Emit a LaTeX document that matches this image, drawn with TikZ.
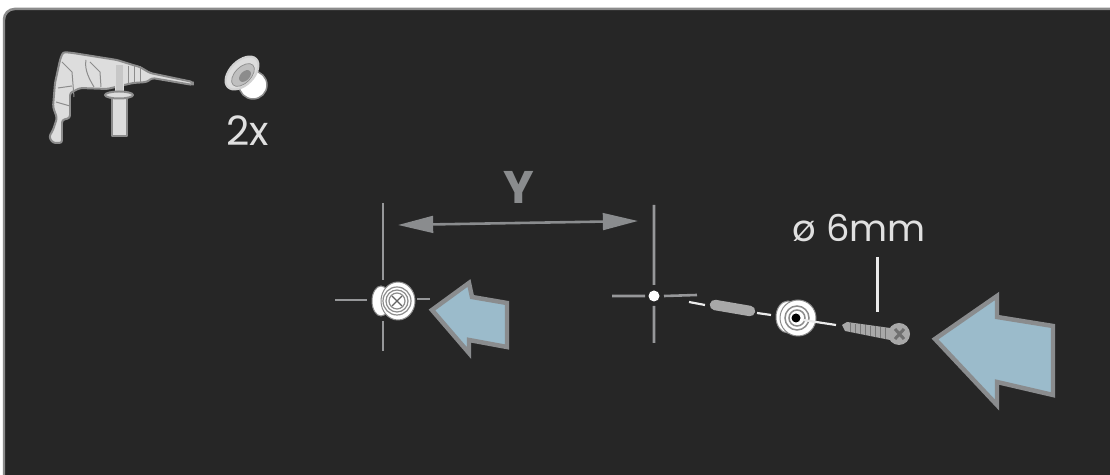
\documentclass[tikz,border=0pt]{standalone}
\usepackage{fontspec}
\setmainfont{Poppins}
\usetikzlibrary{arrows.meta}
\def\px{0.567pt}
\definecolor{panelgrey}{HTML}{262626}
\definecolor{rimgrey}{HTML}{8C8C8C}
\definecolor{linegrey}{HTML}{8A8C8E}
\definecolor{toolgrey}{HTML}{DDDDDD}
\definecolor{screwgrey}{HTML}{A8A8A8}
\definecolor{pushblue}{HTML}{9BBBCB}

\begin{document}
\begin{tikzpicture}[x=0.02cm,y=-0.02cm,
    crossline/.style={linegrey!90!white,line width=2.6*\px},
    push/.style={fill=pushblue,draw=linegrey,line width=4.5*\px,line join=miter},
    toolpart/.style={fill=toolgrey,draw=rimgrey,line width=2*\px,line join=round},
    tooldetail/.style={draw=rimgrey,line width=1*\px},
    whiteline/.style={white!92!black,line width=2.2*\px},
    caption/.style={text=white!88!black,inner sep=0pt,anchor=base}]
  \useasboundingbox (0,0) rectangle (1110,475);
  \clip (0,0) rectangle (1110,475);
  % panel
  \fill[white] (0,0) rectangle (1110,475);
  \draw[rimgrey,fill=panelgrey,line width=2.5*\px,rounded corners=6] (4,9) rectangle (1130,500);

  % drill
  \draw[toolpart,rounded corners=1.5] (63,52) -- (73,53) -- (117,60) -- (133,65) -- (140,67) -- (150,73)
    -- (193,82) -- (193,85) -- (152,78) -- (147,82) -- (133,83) -- (107,89) -- (80,88) -- (70,93)
    -- (70,118) -- (62,120) -- (62,143) -- (53,143) -- (49,137) -- (53,130) -- (57,118) -- (53,107)
    -- (55,83) -- (60,60) -- cycle;
  \draw[tooldetail] (86,60) .. controls (84,70) and (90,80) .. (94,87) (62,62) -- (72,72) -- (74,97);
  \draw[tooldetail] (58,88) -- (72,86) (56,102) -- (70,106) (90,62) -- (100,72) -- (101,87);
  \foreach \x in {128,134,140} \draw[tooldetail] (\x,66) -- (\x,83);
  \draw[toolpart] (112,97) rectangle (127,136);
  \draw[toolgrey,fill=toolgrey!90!black,line width=1*\px] (115,65) rectangle (123,93);
  \draw[toolpart] (119,95) ellipse [x radius=14,y radius=3.5];

  % spacer icon
  \fill[white,draw=rimgrey,line width=1.5*\px] (253,85) circle (14);
  \draw[fill=toolgrey,draw=rimgrey!40!white,line width=2*\px] (242,73) ellipse [x radius=20,y radius=12,rotate=45];
  \draw[fill=white!75!black,draw=rimgrey] (243,75) ellipse [x radius=14,y radius=8,rotate=45];
  \fill[rimgrey] (245,76) ellipse [x radius=7,y radius=4.5,rotate=45];
  \node[caption,font=\fontsize{23}{23}\selectfont] (count) at (248,145.5) {2x};

  % distance between the holes
  \node[caption,text=linegrey,font=\fontsize{26}{26}\selectfont\bfseries] (dist) at (519,204) {Y};
  \coordinate (distleft) at (398,225);
  \coordinate (distright) at (638,221);
  \draw[{Triangle[length=20pt,width=9.5pt]}-{Triangle[length=20pt,width=9.5pt]},linegrey,line width=2.6*\px] (distleft) -- (distright);

  % left hole
  \draw[crossline] (383,203) -- (383,280) (383,321) -- (383,351) (335,300) -- (367,300) (417,299) -- (430,299);
  \fill[white,draw=rimgrey,line width=1*\px] (381,301) ellipse [x radius=9,y radius=15];
  \fill[white,draw=rimgrey,line width=1*\px] (398,301) ellipse [x radius=17,y radius=19];
  \foreach \r in {14,11,8} \draw[rimgrey,line width=1.2*\px] (397,301) circle (\r);
  \draw[rimgrey!70!black,line width=1.2*\px] (392,296) -- (402,306) (402,296) -- (392,306);

  \draw[push] (432,310) -- (469,283) -- (472,297) -- (507,303) -- (507,347) -- (469,340) -- (469,353) -- cycle;

  % right hole
  \draw[crossline] (654,205) -- (654,285) (654,306) -- (654,343) (612,296) -- (645,296) (664,296) -- (697,295);
  \fill[white] (654,296) circle (5.5);

  % parts on their axis
  \draw[whiteline] (689,302) -- (705,305) (757,313) -- (771,315);
  \draw[screwgrey,line width=10.5*\px,line cap=round] (715,305) -- (750,311);
  \fill[white,draw=rimgrey,line width=1*\px] (788,317) ellipse [x radius=12,y radius=16];
  \fill[white,draw=rimgrey,line width=1*\px] (798,318) ellipse [x radius=18,y radius=18];
  \draw[rimgrey,line width=1.5*\px] (797,318) circle (12);
  \draw[rimgrey,line width=1.5*\px] (797,318) circle (8);
  \fill[black] (796,318) circle (4.5);
  \draw[whiteline] (803,320) -- (836,325);
  \fill[screwgrey] (842,325) -- (847,322) -- (890,328) -- (890,340) -- (845,331) -- cycle;
  \foreach \x in {850,855,...,885} \draw[rimgrey!85!black,line width=1*\px] (\x,{323+(\x-850)*0.14}) -- (\x,{332+(\x-850)*0.2});
  \fill[screwgrey] (899,334) circle (11);
  \draw[rimgrey!80!black,line width=3*\px] (895,329) -- (904,339) (904,329) -- (895,339);

  \node[caption,font=\fontsize{21}{21}\selectfont,anchor=base west] (drillsize) at (792,242) {ø\hspace{0.28em}6mm};
  \coordinate (sizetop) at (877,257);
  \coordinate (sizeend) at (877,312);
  \draw[white!92!black,line width=3*\px] (sizetop) -- (sizeend);

  \draw[push] (935,339) -- (997,296) -- (997,317) -- (1053,326) -- (1053,395) -- (997,382) -- (997,405) -- cycle;
\end{tikzpicture}
\end{document}
